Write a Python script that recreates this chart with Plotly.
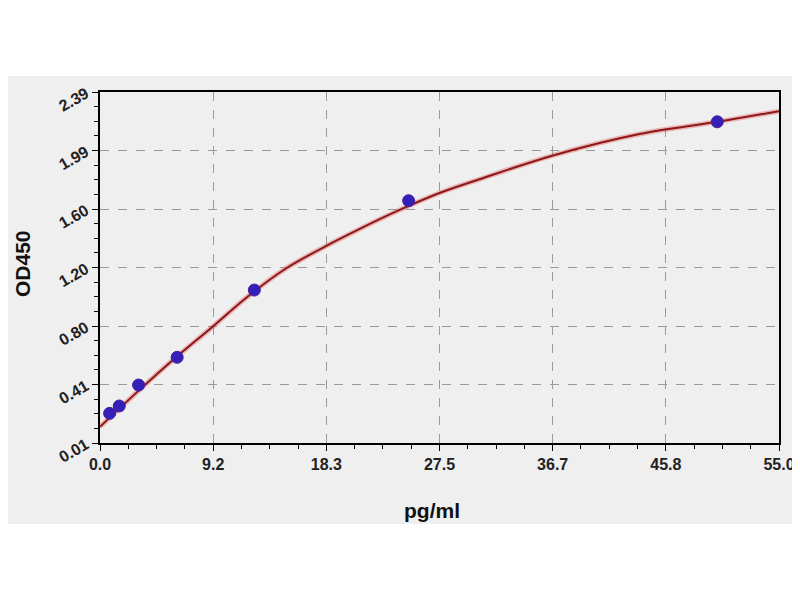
import plotly.graph_objects as go

# Standard points
conc = [0.78, 1.56, 3.125, 6.25, 12.5, 25, 50]
od = [0.211, 0.261, 0.403, 0.591, 1.047, 1.653, 2.188]

# Fitted curve
curve_x = [0, 3, 6, 9, 12, 15, 18.3, 21, 24, 27.5, 30.8, 36.7, 43.7, 50.0, 55.0]
curve_y = [0.12, 0.355, 0.58, 0.79, 1.005, 1.19, 1.345, 1.46, 1.58, 1.705, 1.80, 1.96, 2.105, 2.188, 2.26]

x_ticks = [0.0, 9.1667, 18.3333, 27.5, 36.6667, 45.8333, 55.0]
x_labels = ["0.0", "9.2", "18.3", "27.5", "36.7", "45.8", "55.0"]
y_ticks = [0.01, 0.4067, 0.8033, 1.2, 1.5967, 1.9933, 2.39]
y_labels = ["0.01", "0.41", "0.80", "1.20", "1.60", "1.99", "2.39"]

FONT = "Liberation Sans"

fig = go.Figure()
fig.add_trace(go.Scatter(x=curve_x, y=curve_y, mode="lines", line=dict(color="rgba(225,90,90,0.4)", width=5, shape="spline", smoothing=1.0), hoverinfo="skip", showlegend=False))
fig.add_trace(go.Scatter(x=curve_x, y=curve_y, mode="lines", line=dict(color="#8c1818", width=2, shape="spline", smoothing=1.0), showlegend=False))
fig.add_trace(go.Scatter(x=conc, y=od, mode="markers", marker=dict(color="#3320b8", size=12, line=dict(color="#4a1aa0", width=1)), showlegend=False))

axis_common = dict(
    showline=True, linecolor="black", linewidth=1.5, mirror=True,
    ticks="outside", ticklen=6, tickcolor="black",
    showgrid=True, gridcolor="#9a9a9a", griddash="dash", gridwidth=1,
    zeroline=False,
)

fig.update_xaxes(
    range=[0, 55], tickmode="array", tickvals=x_ticks, ticktext=x_labels,
    tickfont=dict(family=FONT, size=16, color="#222", weight="bold"),
    minor=dict(ticks="outside", ticklen=4, tickcolor="black", dtick=55 / 24, tick0=0, showgrid=False),
    **axis_common,
)
fig.update_yaxes(
    range=[0.01, 2.39], tickmode="array", tickvals=y_ticks, ticktext=y_labels, tickangle=-30,
    tickfont=dict(family=FONT, size=16, color="#222", weight="bold"),
    ticklabelstandoff=3,
    minor=dict(ticks="outside", ticklen=4, tickcolor="black", dtick=2.38 / 24, tick0=0.01, showgrid=False),
    **axis_common,
)

fig.add_shape(type="rect", xref="paper", yref="paper", x0=-0.1473, x1=1.031, y0=-0.2308, y1=1.0456,
              fillcolor="#efefef", line=dict(width=0), layer="below")

fig.add_annotation(text="<b>pg/ml</b>", xref="paper", yref="paper", x=0.489, y=-0.191, showarrow=False,
                   font=dict(family=FONT, size=21, color="#111"), xanchor="center", yanchor="middle")
fig.add_annotation(text="<b>OD450</b>", xref="paper", yref="paper", x=-0.1134, y=0.51, showarrow=False, textangle=-90,
                   font=dict(family=FONT, size=21, color="#111"), xanchor="center", yanchor="middle")

fig.update_layout(
    width=792, height=592,
    margin=dict(l=92, r=21, t=84, b=157, autoexpand=False),
    paper_bgcolor="white", plot_bgcolor="white",
)

fig.write_html("out.html")
